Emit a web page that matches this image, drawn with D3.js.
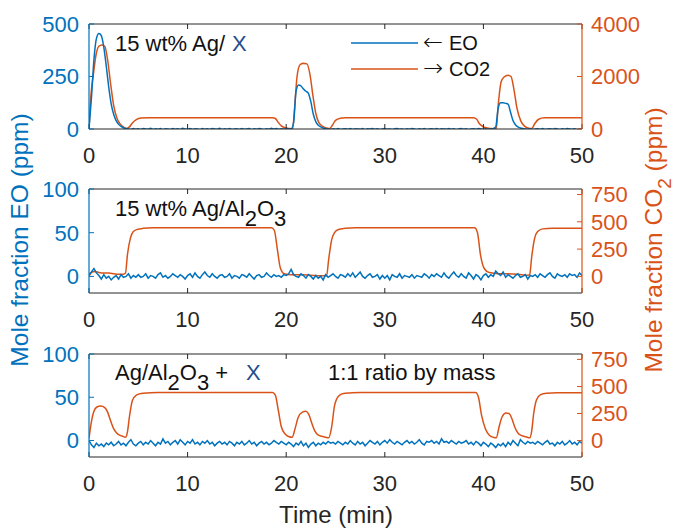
<!DOCTYPE html>
<html><head><meta charset="utf-8">
<script src="https://cdn.jsdelivr.net/npm/d3@7"></script>
<style>body{margin:0;background:#fff}svg{display:block}text{font-family:"Liberation Sans",Arial,sans-serif}</style>
</head><body><svg id="c" width="675" height="528"></svg>
<script>
// ---- data ----
const xTicks = [0, 10, 20, 30, 40, 50];
const eoTime = d3.range(0, 50.001, 0.25);

const eo1 = [0,150,330,430,455,445,390,300,200,120,70,40,22,12,6,2,0,-2,2,-1,
1,-2,2,0,-1,3,-2,1,-1,2,-3,1,0,-2,2,-1,1,-2,3,0,
-1,2,-2,1,0,-3,2,-1,1,-2,2,0,-1,3,-2,1,-1,2,-2,0,
1,-2,2,-1,0,2,-3,1,-1,2,0,-2,1,-1,3,0,2,-1,1,0,
-1,1,0,30,180,210,205,190,180,170,130,70,35,18,10,5,2,0,-2,1,
-1,2,-2,0,1,-1,2,-2,1,0,-1,2,-3,1,0,2,-1,1,-2,0,
2,-1,0,-2,1,2,-1,0,-2,1,-1,2,0,-2,1,-1,2,-2,0,1,
-1,2,-2,1,0,-1,2,-1,1,-2,0,2,-1,1,-2,0,1,-1,2,0,
-1,1,-2,0,2,10,100,125,125,122,118,80,40,20,10,5,2,0,-1,1,
-2,0,1,-1,2,-2,0,1,-1,2,0,-2,1,-1,2,0,-1,1,-2,0,
1];

const eo2 = [2,5,9,4,1,-3,2,-2,0,-4,-1,1,-3,2,-1,0,3,-2,1,-1,
2,-1,0,3,-2,1,0,-2,2,4,-1,1,-2,0,3,1,-1,2,0,-3,
1,3,-1,4,0,-2,2,5,1,-1,3,0,-2,1,2,-1,0,3,-2,1,
0,-2,2,1,-1,3,0,-3,1,2,-1,0,4,1,-1,2,0,1,-1,2,
1,3,8,2,0,-1,3,1,-2,2,0,-3,1,-2,0,-4,2,-1,1,3,
0,-2,2,1,-1,3,0,4,-1,2,5,0,-2,1,3,-1,0,2,-3,1,
-2,1,-4,2,0,-1,3,-2,1,0,-1,2,-2,1,0,-1,3,1,-2,2,
0,3,1,-1,4,0,-2,2,5,1,-1,3,0,-2,4,1,-3,2,0,-4,
1,3,-1,2,0,6,3,1,5,-1,2,0,-2,1,3,-1,0,2,-3,1,
0,2,-1,3,1,-1,2,4,0,-2,3,1,0,2,-1,3,1,2,-1,4,
1];

const eo3 = [0,-5,-8,-3,-6,-4,-7,-3,-5,-2,-6,-4,-1,-5,-3,-6,-2,1,-4,-6,
-3,-1,-5,-2,-4,0,-3,-6,-2,-4,2,-3,-1,-5,-2,0,-4,1,-2,-5,
-1,-3,1,-4,-2,-5,-1,-3,0,-4,-2,-6,-3,-1,-4,-2,-5,-1,-3,-6,
-2,-4,-1,-5,-3,0,-4,-2,-6,-3,-1,-4,-2,-5,-3,0,-2,-4,-1,-3,
-5,-2,-4,-7,-3,-5,-1,-6,-3,-8,-4,-2,-6,-3,-5,-2,-4,-1,-3,-2,
-4,-1,-3,-5,-2,-4,0,-3,-5,-1,-4,-2,-6,-3,0,-2,-4,-1,-5,-2,
0,-3,1,-2,-4,-1,-3,-5,-2,0,-3,-1,-4,-2,1,-3,-5,-1,-2,0,
-3,-1,-4,2,-2,-1,-3,0,-2,-4,-1,-3,-2,0,-4,-2,-5,-1,-3,-6,
-2,-4,-7,-3,-5,-8,-4,-6,-3,-7,-2,-5,0,-3,-6,1,-2,-4,-1,-3,
-2,-4,-1,-3,-5,-2,0,-4,-3,-6,-2,-4,-1,-5,-3,0,-4,-2,-5,-1,
-3];

const co2Time1 = [0,0.2,0.45,0.7,1.0,1.3,1.6,1.9,2.2,2.5,2.8,3.1,3.4,3.8,4.1,4.4,4.8,5.3,6,18.6,18.9,19.2,19.5,19.9,20.3,20.65,20.85,21.1,21.4,21.7,22.1,22.4,22.7,23.0,23.3,23.7,24.1,24.4,24.7,25.0,25.5,26,39.0,39.3,39.6,40.0,40.5,41.0,41.3,41.5,41.8,42.1,42.5,42.8,43.1,43.4,43.8,44.2,44.6,44.9,45.2,45.6,46.2,50];
const co2Val1 = [0,1300,2100,2800,3150,3200,3150,2600,1700,900,450,220,100,20,80,230,360,415,430,430,400,250,120,50,20,5,800,2000,2450,2500,2480,2100,1300,600,250,100,40,20,150,330,410,430,430,380,200,80,30,10,5,900,1800,1980,2050,2000,1500,800,300,100,30,20,200,370,425,430];

const co2Time2 = [0,0.3,0.6,1.0,1.5,2.0,2.5,3.0,3.5,3.7,3.9,4.2,4.5,4.9,5.5,6.5,18.5,18.8,19.1,19.4,19.8,20.5,21.5,22.5,23.5,24.1,24.3,24.6,24.9,25.3,26,27,39.1,39.4,39.7,40.1,40.6,41.5,42.5,43.5,44.5,44.7,44.9,45.2,45.5,46,47,50];
const co2Val2 = [0,40,45,35,30,30,25,20,20,30,200,350,410,430,440,445,445,420,250,80,25,15,15,10,5,5,150,330,400,430,440,445,445,400,200,70,35,25,25,20,10,20,180,350,410,435,440,440];

const co2Time3 = [0,0.2,0.5,0.8,1.2,1.6,1.9,2.2,2.5,2.8,3.1,3.4,3.7,3.9,4.1,4.4,4.8,5.3,6,7,18.6,18.9,19.2,19.5,19.9,20.3,20.6,20.9,21.2,21.6,22.0,22.3,22.6,22.9,23.2,23.6,24.0,24.3,24.6,24.9,25.3,25.8,26.5,27.5,39.2,39.5,39.8,40.2,40.6,41.0,41.3,41.6,41.9,42.3,42.6,42.9,43.2,43.5,43.9,44.3,44.7,44.9,45.1,45.4,45.8,46.4,47.5,50];
const co2Val3 = [20,150,270,310,320,305,260,180,110,70,50,40,30,80,220,370,420,435,440,445,445,420,280,130,60,35,30,110,210,260,270,240,160,90,55,40,30,25,120,320,410,435,440,445,445,400,240,110,50,30,25,130,220,255,250,200,120,70,45,35,25,90,250,380,425,438,442,442];

const leftTicks1 = [0, 250, 500], rightTicks1 = [0, 2000, 4000];
const leftTicks23 = [0, 50, 100], rightTicks23 = [0, 250, 500, 750];

// ---- drawing ----
const blue = "#0072BD", orange = "#D95319", ink = "#262626", navy = "#1F4E8C";
const svg = d3.select("#c");
const X0 = 89, X1 = 582;
const x = d3.scaleLinear().domain([0, 50]).range([X0, X1]);

const panels = [
  {top: 24, bottom: 129, ld: [0, 500], rd: [0, 4000], lt: leftTicks1, rt: rightTicks1, eo: eo1, ct: co2Time1, cv: co2Val1, smooth: true},
  {top: 189, bottom: 293, ld: [-19, 100], rd: [-152, 800], lt: leftTicks23, rt: rightTicks23, eo: eo2, ct: co2Time2, cv: co2Val2, smooth: false},
  {top: 354, bottom: 457, ld: [-19, 100], rd: [-152, 800], lt: leftTicks23, rt: rightTicks23, eo: eo3, ct: co2Time3, cv: co2Val3, smooth: false}
];
const FS = 22;
panels.forEach((p, i) => {
  const yl = d3.scaleLinear().domain(p.ld).range([p.bottom, p.top]);
  const yr = d3.scaleLinear().domain(p.rd).range([p.bottom, p.top]);
  const g = svg.append("g");
  const cid = "clip" + i;
  svg.append("clipPath").attr("id", cid).append("rect")
    .attr("x", X0).attr("y", p.top).attr("width", X1 - X0).attr("height", p.bottom - p.top);
  const dg = g.append("g").attr("clip-path", `url(#${cid})`);
  dg.append("path").datum(p.ct.map((t, k) => [t, p.cv[k]]))
    .attr("fill", "none").attr("stroke", orange).attr("stroke-width", 1.5)
    .attr("d", d3.line().x(d => x(d[0])).y(d => yr(d[1])).curve(d3.curveMonotoneX));
  dg.append("path").datum(eoTime.map((t, k) => [t, p.eo[k]]))
    .attr("fill", "none").attr("stroke", blue).attr("stroke-width", 1.5)
    .attr("d", d3.line().x(d => x(d[0])).y(d => yl(d[1])).curve(p.smooth ? d3.curveMonotoneX : d3.curveLinear));
  g.append("line").attr("x1", X0).attr("x2", X1).attr("y1", p.top).attr("y2", p.top).attr("stroke", ink).attr("stroke-width", 1);
  g.append("line").attr("x1", X0).attr("x2", X1).attr("y1", p.bottom).attr("y2", p.bottom).attr("stroke", ink).attr("stroke-width", 1);
  xTicks.forEach(t => {
    g.append("line").attr("x1", x(t)).attr("x2", x(t)).attr("y1", p.bottom).attr("y2", p.bottom - 5).attr("stroke", ink);
    g.append("line").attr("x1", x(t)).attr("x2", x(t)).attr("y1", p.top).attr("y2", p.top + 5).attr("stroke", ink);
    g.append("text").attr("x", x(t)).attr("y", p.bottom + 34).attr("text-anchor", "middle")
      .attr("font-size", FS).attr("fill", ink).text(t);
  });
  g.append("line").attr("x1", X0).attr("x2", X0).attr("y1", p.top).attr("y2", p.bottom).attr("stroke", blue).attr("stroke-width", 1.2);
  p.lt.forEach(t => {
    g.append("line").attr("x1", X0).attr("x2", X0 + 5).attr("y1", yl(t)).attr("y2", yl(t)).attr("stroke", blue);
    g.append("text").attr("x", X0 - 10).attr("y", yl(t)).attr("dy", "0.36em").attr("text-anchor", "end")
      .attr("font-size", FS).attr("fill", blue).text(t);
  });
  g.append("line").attr("x1", X1).attr("x2", X1).attr("y1", p.top).attr("y2", p.bottom).attr("stroke", orange).attr("stroke-width", 1.2);
  p.rt.forEach(t => {
    g.append("line").attr("x1", X1).attr("x2", X1 - 5).attr("y1", yr(t)).attr("y2", yr(t)).attr("stroke", orange);
    g.append("text").attr("x", X1 + 9).attr("y", yr(t)).attr("dy", "0.36em").attr("text-anchor", "start")
      .attr("font-size", FS).attr("fill", orange).text(t);
  });
});

// annotations
const AF = 22;
const t1 = svg.append("text").attr("x", 115).attr("y", 51).attr("font-size", AF).attr("fill", "#111");
t1.append("tspan").text("15 wt% Ag/");
t1.append("tspan").attr("x", 232).attr("fill", navy).text("X");

function alo(t) {
  t.append("tspan").attr("dy", 10).text("2");
  t.append("tspan").attr("dy", -10).text("O");
  t.append("tspan").attr("dy", 10).text("3");
}
const t2 = svg.append("text").attr("x", 115).attr("y", 216).attr("font-size", AF).attr("fill", "#111");
t2.append("tspan").text("15 wt% Ag/Al");
alo(t2);

const t3 = svg.append("text").attr("x", 115).attr("y", 380).attr("font-size", AF).attr("fill", "#111");
t3.append("tspan").text("Ag/Al");
alo(t3);
t3.append("tspan").attr("dy", -10).text(" +");
t3.append("tspan").attr("x", 246).attr("fill", navy).text("X");
svg.append("text").attr("x", 328).attr("y", 380).attr("font-size", AF).attr("fill", "#111").text("1:1 ratio by mass");

// legend
const legend = [{c: blue, a: "\u2190", s: "EO", y: 43}, {c: orange, a: "\u2192", s: "CO2", y: 69}];
legend.forEach(l => {
  svg.append("line").attr("x1", 351).attr("x2", 418).attr("y1", l.y).attr("y2", l.y).attr("stroke", l.c).attr("stroke-width", 1.5);
  const t = svg.append("text").attr("y", l.y).attr("dy", "0.36em").attr("font-size", 20).attr("fill", "#111");
  t.append("tspan").attr("x", 423).attr("font-family", "DejaVu Sans").attr("font-size", 24).attr("font-weight", 300).text(l.a);
  t.append("tspan").attr("x", 449).text(l.s);
});

// axis titles
svg.append("text").attr("transform", "translate(28,240) rotate(-90)").attr("text-anchor", "middle")
  .attr("font-size", 24.5).attr("fill", blue).text("Mole fraction EO (ppm)");
const rt = svg.append("text").attr("transform", "translate(662,240) rotate(-90)").attr("text-anchor", "middle")
  .attr("font-size", 24.5).attr("fill", orange);
rt.append("tspan").text("Mole fraction CO");
rt.append("tspan").attr("dy", 9).attr("font-size", 19).text("2");
rt.append("tspan").attr("dy", -9).text(" (ppm)");
svg.append("text").attr("x", 336).attr("y", 523).attr("text-anchor", "middle")
  .attr("font-size", 24).attr("fill", ink).text("Time (min)");
</script></body></html>
